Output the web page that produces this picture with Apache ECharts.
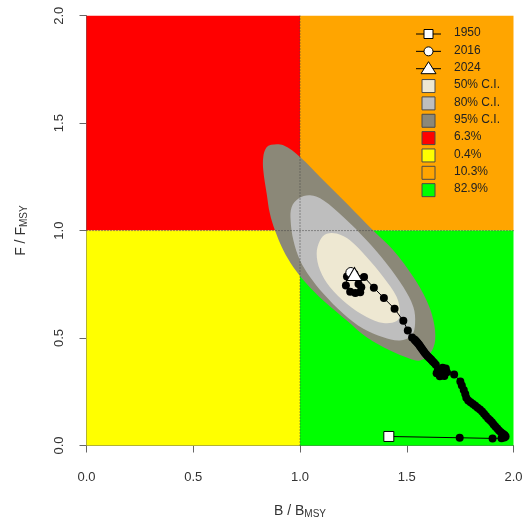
<!DOCTYPE html>
<html>
<head>
<meta charset="utf-8">
<title>Kobe plot</title>
<script src="https://cdn.jsdelivr.net/npm/echarts@6/dist/echarts.min.js"></script>
<style>
html, body { margin: 0; padding: 0; background: #fff; }
#main { width: 532px; height: 528px; }
</style>
</head>
<body>
<div id="main"></div>
<script>
// trajectory, 1950 - 2024
var years = [];
for (var yr = 1950; yr <= 2024; yr++) years.push(yr);

var bRatio = [
    1.416, 1.748, 1.902, 1.944, 1.957, 1.963, 1.958, 1.950, 1.941, 1.932,
    1.924, 1.915, 1.907, 1.899, 1.890, 1.881, 1.871, 1.862, 1.853, 1.843,
    1.832, 1.821, 1.810, 1.799, 1.788, 1.779, 1.774, 1.767, 1.758, 1.751,
    1.722, 1.683, 1.668, 1.646, 1.640, 1.655, 1.676, 1.688, 1.662, 1.636,
    1.628, 1.621, 1.615, 1.609, 1.603, 1.597, 1.591, 1.585, 1.580, 1.575,
    1.570, 1.565, 1.561, 1.557, 1.552, 1.548, 1.544, 1.540, 1.536, 1.525,
    1.505, 1.484, 1.443, 1.393, 1.346, 1.300, 1.238, 1.220, 1.215, 1.235,
    1.259, 1.282, 1.287, 1.274, 1.255
];
var fRatio = [
    0.042, 0.036, 0.033, 0.034, 0.037, 0.042, 0.049, 0.055, 0.062, 0.070,
    0.079, 0.088, 0.098, 0.108, 0.117, 0.126, 0.137, 0.148, 0.158, 0.167,
    0.176, 0.185, 0.193, 0.201, 0.209, 0.222, 0.240, 0.258, 0.279, 0.298,
    0.330, 0.358, 0.362, 0.352, 0.336, 0.322, 0.323, 0.341, 0.347, 0.376,
    0.385, 0.392, 0.399, 0.405, 0.411, 0.417, 0.423, 0.430, 0.437, 0.444,
    0.451, 0.458, 0.464, 0.470, 0.476, 0.481, 0.485, 0.489, 0.493, 0.503,
    0.535, 0.580, 0.636, 0.686, 0.734, 0.784, 0.805, 0.786, 0.744, 0.716,
    0.710, 0.713, 0.736, 0.752, 0.798
];

// confidence region outlines [B/Bmsy, F/Fmsy]
var ci95 = [[0.865,1.400],[0.842,1.385],[0.828,1.343],[0.828,1.281],[0.844,1.172],[0.859,1.079],
    [0.883,1.000],[0.922,0.908],[0.969,0.830],[1.031,0.753],[1.109,0.675],[1.219,0.582],
    [1.312,0.504],[1.422,0.442],[1.515,0.404],[1.562,0.396],[1.609,0.427],[1.633,0.489],
    [1.625,0.582],[1.593,0.675],[1.531,0.784],[1.437,0.908],[1.343,1.000],[1.219,1.126],
    [1.094,1.250],[1.000,1.343],[0.922,1.397]];
var ci80 = [[0.961,1.110],[0.956,1.048],[0.969,0.955],[1.000,0.862],[1.047,0.784],[1.109,0.707],
    [1.203,0.613],[1.297,0.543],[1.390,0.504],[1.468,0.489],[1.523,0.512],[1.539,0.567],
    [1.531,0.644],[1.484,0.737],[1.406,0.846],[1.312,0.955],[1.203,1.063],[1.109,1.141],
    [1.047,1.164],[0.995,1.150]];
var ci50 = [[1.094,0.955],[1.078,0.893],[1.094,0.815],[1.140,0.737],[1.219,0.660],[1.312,0.598],
    [1.390,0.570],[1.453,0.579],[1.468,0.613],[1.453,0.691],[1.390,0.784],[1.312,0.877],
    [1.234,0.955],[1.172,0.986],[1.125,0.985]];

// quadrants: x0, y0, x1, y1
var quadBounds = [[0, 1, 1, 2], [0, 0, 1, 1], [1, 1, 2, 2], [1, 0, 2, 1]];
var quadColors = ['#FF0000', '#FFFF00', '#FFA500', '#00FF00'];
var quadPct = ['6.3%', '0.4%', '10.3%', '82.9%'];

var ciLabels = ['50% C.I.', '80% C.I.', '95% C.I.'];
var ciColors = ['#EEE8D2', '#BEBEBE', '#8B8878'];

var myChart = echarts.init(document.getElementById('main'));

var pathData = years.map(function (y, i) { return [bRatio[i], fRatio[i]]; });
var iFirst = 0, i2016 = years.indexOf(2016), iLast = years.length - 1;

function polySeries(pts, color) {
    return {
        type: 'custom',
        silent: true,
        data: [pts[0]],
        renderItem: function (params, api) {
            return {
                type: 'polygon',
                shape: { points: pts.map(function (p) { return api.coord(p); }), smooth: 0.35 },
                style: { fill: color }
            };
        }
    };
}

// legend drawn by hand, R style
var legendItems = [];
var lx = 416, ly = 34, ldy = 17.35;
function addLegendRow(k, text) {
    legendItems.push({
        type: 'text', x: lx + 38, y: ly + k * ldy - 7, z: 100,
        style: { text: text, fill: '#222', font: '12px Arial, "Liberation Sans", sans-serif' }
    });
}
var yearSym = [
    { y: 1950, shape: 'rect' }, { y: 2016, shape: 'circle' }, { y: 2024, shape: 'triangle' }
];
yearSym.forEach(function (s, k) {
    var cy = ly + k * ldy;
    legendItems.push({ type: 'line', z: 100, shape: { x1: lx, y1: cy, x2: lx + 25, y2: cy }, style: { stroke: '#000', lineWidth: 1 } });
    var sh;
    if (s.shape === 'rect') sh = { type: 'rect', shape: { x: lx + 8, y: cy - 4.5, width: 9, height: 9 } };
    else if (s.shape === 'circle') sh = { type: 'circle', shape: { cx: lx + 12.5, cy: cy, r: 4.5 } };
    else sh = { type: 'polygon', shape: { points: [[lx + 12.5, cy - 7], [lx + 5, cy + 5], [lx + 20, cy + 5]] } };
    sh.z = 101;
    sh.style = { fill: '#fff', stroke: '#000', lineWidth: 1 };
    legendItems.push(sh);
    addLegendRow(k, String(s.y));
});
var swatches = ciColors.concat(quadColors);
var swatchText = ciLabels.concat(quadPct);
swatches.forEach(function (c, j) {
    var k = j + 3, cy = ly + k * ldy;
    legendItems.push({
        type: 'rect', z: 100, shape: { x: lx + 6, y: cy - 6.5, width: 13, height: 13 },
        style: { fill: c, stroke: '#4a4a4a', lineWidth: 1 }
    });
    addLegendRow(k, swatchText[j]);
});

var fontFam = 'Arial, "Liberation Sans", sans-serif';
var nameRich = {
    n: { fontSize: 14, color: '#333', fontFamily: fontFam },
    s: { fontSize: 14, color: '#333', fontFamily: fontFam },
    sub: { fontSize: 10, color: '#333', fontFamily: fontFam, padding: [6, 0, 0, 0] }
};
var markerStyle = { color: '#fff', borderColor: '#000', borderWidth: 1, opacity: 1 };

var option = {
    backgroundColor: '#fff',
    animation: false,
    grid: { left: 86.5, right: 18.5, top: 15.7, bottom: 82.5 },
    xAxis: {
        type: 'value', min: 0, max: 2, interval: 0.5,
        name: '{n|B}{s| / }{n|B}{sub|MSY}',
        nameLocation: 'middle', nameGap: 58,
        nameTextStyle: { rich: nameRich },
        axisLine: { show: true, onZero: false, lineStyle: { color: '#666', width: 1 } },
        axisTick: { show: true, length: 7, lineStyle: { color: '#666' } },
        axisLabel: {
            margin: 25, fontSize: 13, color: '#333', fontFamily: fontFam,
            formatter: function (v) { return v.toFixed(1); }
        },
        splitLine: { show: false }
    },
    yAxis: {
        type: 'value', min: 0, max: 2, interval: 0.5,
        name: '{n|F}{s| / }{n|F}{sub|MSY}',
        nameLocation: 'middle', nameGap: 57, nameRotate: 90,
        nameTextStyle: { rich: nameRich },
        axisLine: { show: true, onZero: false, lineStyle: { color: '#666', width: 1 } },
        axisTick: { show: true, length: 7, lineStyle: { color: '#666' } },
        axisLabel: {
            margin: 21, fontSize: 13, color: '#333', fontFamily: fontFam, rotate: 90,
            formatter: function (v) { return v.toFixed(1); }
        },
        splitLine: { show: false }
    },
    graphic: { elements: legendItems },
    series: [
        {
            type: 'custom',
            silent: true,
            data: quadBounds.map(function (q, i) { return q.concat([i]); }),
            renderItem: function (params, api) {
                var p0 = api.coord([api.value(0), api.value(3)]);
                var p1 = api.coord([api.value(2), api.value(1)]);
                return {
                    type: 'rect',
                    shape: { x: p0[0], y: p0[1], width: p1[0] - p0[0], height: p1[1] - p0[1] },
                    style: { fill: quadColors[api.value(4)] }
                };
            }
        },
        polySeries(ci95, ciColors[2]),
        polySeries(ci80, ciColors[1]),
        polySeries(ci50, ciColors[0]),
        {
            // reference lines at 1
            type: 'custom',
            silent: true,
            data: [[1, 0, 1, 2], [0, 1, 2, 1]],
            renderItem: function (params, api) {
                var a = api.coord([api.value(0), api.value(1)]);
                var b = api.coord([api.value(2), api.value(3)]);
                return {
                    type: 'line',
                    shape: { x1: a[0], y1: a[1], x2: b[0], y2: b[1] },
                    style: { stroke: '#444', lineWidth: 1, lineDash: [1, 2] }
                };
            }
        },
        {
            type: 'line',
            data: pathData,
            symbol: 'circle',
            symbolSize: 8,
            itemStyle: { color: '#000' },
            lineStyle: { color: '#000', width: 1 },
            silent: true
        },
        {
            type: 'scatter', z: 10,
            data: [pathData[iFirst]],
            symbol: 'rect', symbolSize: 10,
            itemStyle: markerStyle, silent: true
        },
        {
            type: 'scatter', z: 10,
            data: [pathData[i2016]],
            symbol: 'circle', symbolSize: 10,
            itemStyle: markerStyle, silent: true
        },
        {
            type: 'scatter', z: 11,
            data: [pathData[iLast]],
            symbol: 'triangle', symbolSize: [15, 13],
            itemStyle: markerStyle, silent: true
        }
    ]
};

myChart.setOption(option);
window.addEventListener('resize', function () {
    myChart.resize();
});
</script>
</body>
</html>
